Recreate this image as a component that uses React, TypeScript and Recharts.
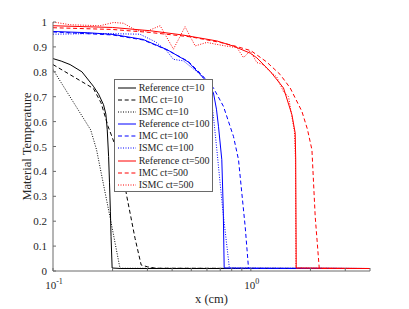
import { LineChart, Line, XAxis, YAxis, Legend } from 'recharts';

const AXIS = '#6a6a6a';
const TEXT = '#262626';
const FONT = '"Liberation Serif", "Times New Roman", serif';

const xTicks = [0.1, 0.2, 0.3, 0.4, 0.5, 0.6, 0.7, 0.8, 0.9, 1, 2, 3, 4];
const yTicks = [0, 0.1, 0.2, 0.3, 0.4, 0.5, 0.6, 0.7, 0.8, 0.9, 1];

// ct = 10
const refX10 = [0.1, 0.11, 0.122, 0.14, 0.16, 0.17, 0.18, 0.185, 0.188, 0.191, 0.193, 0.195, 0.1965, 0.199, 0.22, 4];
const refY10 = [0.853, 0.843, 0.829, 0.8, 0.742, 0.71, 0.668, 0.63, 0.567, 0.46, 0.354, 0.24, 0.138, 0.012, 0.01, 0.01];
const imcX10 = [0.1, 0.16, 0.175, 0.19, 0.205, 0.22, 0.236, 0.26, 0.279, 0.3, 0.33, 4];
const imcY10 = [0.829, 0.733, 0.675, 0.58, 0.51, 0.44, 0.3, 0.13, 0.024, 0.017, 0.011, 0.01];
const ismcX10 = [0.1, 0.155, 0.166, 0.2, 0.218, 4];
const ismcY10 = [0.809, 0.567, 0.487, 0.165, 0.011, 0.01];

// ct = 100
const refX100 = [0.1, 0.15, 0.201, 0.285, 0.377, 0.482, 0.554, 0.6, 0.647, 0.67, 0.686, 0.713, 0.725, 0.733, 4];
const refY100 = [0.962, 0.957, 0.95, 0.93, 0.889, 0.84, 0.79, 0.76, 0.715, 0.65, 0.581, 0.447, 0.25, 0.012, 0.01];
const imcX100 = [0.1, 0.2, 0.285, 0.377, 0.482, 0.554, 0.647, 0.727, 0.817, 0.866, 0.9, 0.936, 0.973, 1.0, 4];
const imcY100 = [0.96, 0.948, 0.928, 0.888, 0.842, 0.795, 0.735, 0.661, 0.54, 0.447, 0.313, 0.178, 0.011, 0.01, 0.01];
const ismcX100 = [0.1, 0.173, 0.275, 0.33, 0.376, 0.406, 0.456, 0.554, 0.62, 0.647, 0.673, 0.72, 0.779, 4];
const ismcY100 = [0.951, 0.954, 0.951, 0.92, 0.884, 0.85, 0.844, 0.79, 0.74, 0.62, 0.487, 0.25, 0.011, 0.01];

// ct = 500
const refX500 = [0.1, 0.2, 0.309, 0.45, 0.673, 0.817, 0.992, 1.072, 1.252, 1.462, 1.612, 1.675, 1.685, 1.695, 4];
const refY500 = [0.985, 0.978, 0.965, 0.948, 0.924, 0.903, 0.875, 0.856, 0.802, 0.735, 0.628, 0.554, 0.45, 0.012, 0.01];
const imcX500 = [0.1, 0.2, 0.309, 0.5, 0.7, 0.817, 1.0, 1.2, 1.407, 1.58, 1.811, 1.93, 2.035, 2.114, 2.216, 2.3, 4];
const imcY500 = [0.977, 0.97, 0.958, 0.94, 0.918, 0.905, 0.885, 0.84, 0.789, 0.735, 0.641, 0.57, 0.487, 0.219, 0.011, 0.01, 0.01];
const ismcX500 = [0.1, 0.122, 0.173, 0.202, 0.227, 0.265, 0.299, 0.348, 0.406, 0.465, 0.523, 0.599, 0.673, 0.756, 0.85, 0.918, 0.992, 1.072, 1.15, 1.252, 1.35, 1.462, 1.55, 1.612, 1.66, 1.68, 1.69, 4];
const ismcY500 = [1.0, 0.989, 0.985, 0.998, 0.995, 0.965, 0.963, 0.985, 0.891, 0.981, 0.904, 0.918, 0.91, 0.903, 0.897, 0.857, 0.884, 0.837, 0.83, 0.8, 0.78, 0.72, 0.7, 0.62, 0.56, 0.45, 0.012, 0.01];

const zip = (xs: number[], ys: number[]) => xs.map((x, i) => ({ x, y: ys[i] }));

const DASH = '4 2.7';
const DOT = '1 1.5';

const series = [
  { name: 'Reference ct=10', color: '#000000', dash: undefined, data: zip(refX10, refY10) },
  { name: 'IMC ct=10', color: '#000000', dash: DASH, data: zip(imcX10, imcY10) },
  { name: 'ISMC ct=10', color: '#000000', dash: DOT, data: zip(ismcX10, ismcY10) },
  { name: 'Reference ct=100', color: '#0000ff', dash: undefined, data: zip(refX100, refY100) },
  { name: 'IMC ct=100', color: '#0000ff', dash: DASH, data: zip(imcX100, imcY100) },
  { name: 'ISMC ct=100', color: '#0000ff', dash: DOT, data: zip(ismcX100, ismcY100) },
  { name: 'Reference ct=500', color: '#ff0000', dash: undefined, data: zip(refX500, refY500) },
  { name: 'IMC ct=500', color: '#ff0000', dash: DASH, data: zip(imcX500, imcY500) },
  { name: 'ISMC ct=500', color: '#ff0000', dash: DOT, data: zip(ismcX500, ismcY500) },
];

function BottomTick(props: any) {
  const { x, y, payload } = props;
  const v = payload.value;
  const exp = v === 0.1 ? '-1' : v === 1 ? '0' : null;
  return (
    <g>
      <line x1={x} y1={y} x2={x} y2={y - 3} stroke={AXIS} />
      {exp && (
        <text x={x + 1} y={y + 18} textAnchor="middle" fontSize={11} fontFamily={FONT} fill={TEXT}>
          10
          <tspan dy={-5} fontSize={8}>{exp}</tspan>
        </text>
      )}
    </g>
  );
}

function TopTick(props: any) {
  const { x, y } = props;
  return <line x1={x} y1={y} x2={x} y2={y + 3} stroke={AXIS} />;
}

function LeftTick(props: any) {
  const { x, y, payload } = props;
  const v = Math.round(payload.value * 10) / 10;
  return (
    <g>
      <line x1={x} y1={y} x2={x + 3} y2={y} stroke={AXIS} />
      <text x={x - 6} y={y} textAnchor="end" dominantBaseline="central" fontSize={11} fontFamily={FONT} fill={TEXT}>
        {String(v)}
      </text>
    </g>
  );
}

function RightTick(props: any) {
  const { x, y } = props;
  return <line x1={x} y1={y} x2={x - 3} y2={y} stroke={AXIS} />;
}

function LegendBox() {
  return (
    <div
      style={{
        boxSizing: 'border-box',
        width: 99,
        height: 113,
        border: `1px solid ${AXIS}`,
        background: '#ffffff',
        paddingTop: 1.6,
        fontFamily: FONT,
        fontSize: 10,
        color: TEXT,
      }}
    >
      {series.map((s) => (
        <div key={s.name} style={{ display: 'flex', alignItems: 'center', height: 12.15, whiteSpace: 'nowrap' }}>
          <svg width={19} height={6} style={{ marginLeft: 3, marginRight: 1.7, flexShrink: 0 }}>
            <line x1={0} y1={3} x2={18} y2={3} stroke={s.color} strokeWidth={1} strokeDasharray={s.dash} />
          </svg>
          <span style={{ lineHeight: '12px' }}>{s.name}</span>
        </div>
      ))}
    </div>
  );
}

export default function App() {
  return (
    <div style={{ fontFamily: FONT }}>
      <LineChart width={400} height={301} margin={{ top: 14, right: 38, bottom: 0, left: 0 }}>
        <XAxis
          xAxisId="b"
          type="number"
          dataKey="x"
          scale="log"
          domain={[0.1, 4]}
          allowDataOverflow
          ticks={xTicks}
          interval={0}
          height={38}
          tickSize={0}
          tickMargin={0}
          tickLine={false}
          axisLine={{ stroke: AXIS }}
          tick={<BottomTick />}
          label={{
            content: () => (
              <text x={203.5} y={295} textAnchor="middle" fontSize={12.5} fontFamily={FONT} fill={TEXT}>
                x (cm)
              </text>
            ),
          }}
        />
        <XAxis
          xAxisId="t"
          orientation="top"
          type="number"
          dataKey="x"
          scale="log"
          domain={[0.1, 4]}
          allowDataOverflow
          ticks={xTicks}
          interval={0}
          height={0}
          tickSize={0}
          tickMargin={0}
          tickLine={false}
          axisLine={{ stroke: AXIS }}
          tick={<TopTick />}
        />
        <YAxis
          yAxisId="l"
          type="number"
          domain={[0, 1]}
          allowDataOverflow
          ticks={yTicks}
          interval={0}
          width={45}
          tickSize={0}
          tickMargin={0}
          tickLine={false}
          axisLine={{ stroke: AXIS }}
          tick={<LeftTick />}
          label={{
            content: () => (
              <text
                x={19}
                y={138.5}
                transform="rotate(-90 19 138.5)"
                textAnchor="middle"
                dominantBaseline="central"
                fontSize={12.5}
                fontFamily={FONT}
                fill={TEXT}
              >
                Material Temperature
              </text>
            ),
          }}
        />
        <YAxis
          yAxisId="r"
          orientation="right"
          type="number"
          domain={[0, 1]}
          allowDataOverflow
          ticks={yTicks}
          interval={0}
          width={0}
          tickSize={0}
          tickMargin={0}
          tickLine={false}
          axisLine={{ stroke: AXIS }}
          tick={<RightTick />}
        />
        {series.map((s) => (
          <Line
            key={s.name}
            name={s.name}
            data={s.data}
            dataKey="y"
            xAxisId="b"
            yAxisId="l"
            type="linear"
            stroke={s.color}
            strokeWidth={1}
            strokeDasharray={s.dash}
            dot={false}
            activeDot={false}
            isAnimationActive={false}
          />
        ))}
        <Legend
          layout="horizontal"
          verticalAlign="middle"
          align="center"
          content={<LegendBox />}
          wrapperStyle={{ left: 106, top: 71, width: 99, height: 113, margin: 0 }}
        />
      </LineChart>
    </div>
  );
}
